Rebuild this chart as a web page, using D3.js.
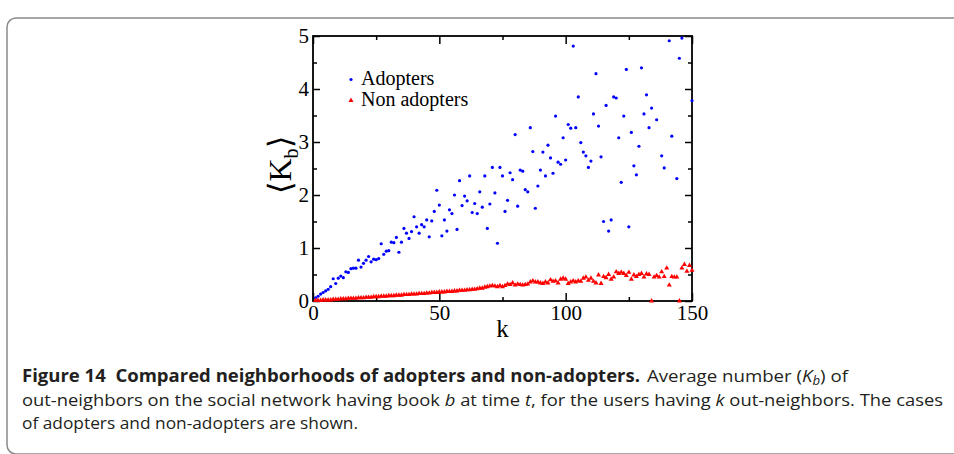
<!DOCTYPE html>
<html>
<head>
<meta charset="utf-8">
<script src="https://cdn.jsdelivr.net/npm/d3@7"></script>
<style>
body { margin: 0; background: #fff; overflow: hidden; }
svg { display: block; }
</style>
</head>
<body>
<svg id="chart" width="954" height="454"></svg>
<script>
// values: k = number of out-neighbors, Kb = average <K_b>
var adopterK = [
	1, 2, 3, 4, 5, 6, 7, 8, 9, 10, 11, 12, 13, 14, 15, 16, 17, 18, 19, 20,
	21, 22, 23, 24, 25, 26, 27, 28, 29, 30, 31, 32, 33, 34, 35, 36, 37, 38, 39, 40,
	41, 42, 43, 44, 45, 46, 47, 48, 49, 50, 51, 52, 53, 54, 55, 56, 57, 58, 59, 60,
	61, 62, 63, 64, 65, 66, 67, 68, 69, 70, 71, 72, 73, 74, 75, 76, 77, 78, 79, 80,
	81, 82, 83, 84, 85, 86, 87, 88, 89, 90, 91, 92, 93, 94, 95, 96, 97, 98, 99, 100,
	101, 102, 103, 104, 105, 106, 107, 108, 109, 110, 111, 112, 113, 114, 115, 116, 117, 118, 119, 120,
	121, 122, 123, 124, 125, 126, 127, 128, 129, 130, 131, 132, 133, 134,
	136, 138, 139, 141, 142, 144, 145, 146, 150
];
var adopterKb = [
	0.06, 0.09, 0.13, 0.16, 0.19, 0.22, 0.27, 0.42, 0.33, 0.43,
	0.47, 0.44, 0.55, 0.54, 0.61, 0.62, 0.62, 0.77, 0.64, 0.71,
	0.77, 0.84, 0.74, 0.79, 0.78, 0.80, 1.08, 0.88, 0.94, 0.95,
	1.11, 1.10, 1.20, 0.92, 1.11, 1.37, 1.28, 1.18, 1.31, 1.59,
	1.40, 1.28, 1.44, 1.40, 1.53, 1.21, 1.51, 1.69, 2.09, 1.81,
	1.23, 1.53, 1.32, 1.72, 1.65, 2.00, 1.35, 2.27, 1.80, 1.98,
	1.89, 2.36, 1.67, 1.84, 1.65, 2.06, 1.77, 2.36, 1.37, 1.83,
	2.52, 2.04, 1.09, 2.52, 2.36, 1.69, 1.90, 2.42, 2.29, 3.14,
	1.79, 2.47, 2.45, 2.10, 2.06, 3.27, 2.82, 1.75, 2.17, 2.47,
	2.81, 2.36, 2.94, 2.70, 2.41, 3.49, 2.62, 2.58, 3.08, 2.66,
	3.33, 3.26, 4.81, 3.27, 3.85, 2.99, 2.81, 2.74, 2.52, 2.64,
	3.53, 4.29, 3.30, 2.72, 1.50, 3.69, 1.32, 1.53, 3.85, 3.83,
	3.08, 2.24, 3.49, 4.37, 1.40, 3.18, 2.55, 2.38, 2.92, 4.40,
	3.53, 3.89, 3.27, 3.64,
	3.42, 2.74, 2.51, 4.91, 3.11, 2.31, 4.58, 4.96, 3.78
];
var nonAdopterK = [
	1, 2, 3, 4, 5, 6, 7, 8, 9, 10, 11, 12, 13, 14, 15, 16, 17, 18, 19, 20,
	21, 22, 23, 24, 25, 26, 27, 28, 29, 30, 31, 32, 33, 34, 35, 36, 37, 38, 39, 40,
	41, 42, 43, 44, 45, 46, 47, 48, 49, 50, 51, 52, 53, 54, 55, 56, 57, 58, 59, 60,
	61, 62, 63, 64, 65, 66, 67, 68, 69, 70, 71, 72, 73, 74, 75, 76, 77, 78, 79, 80,
	81, 82, 83, 84, 85, 86, 87, 88, 89, 90, 91, 92, 93, 94, 95, 96, 97, 98, 99, 100,
	101, 102, 103, 104, 105, 106, 107, 108, 109, 110, 111, 112, 113, 114, 115, 116, 117, 118, 119, 120,
	121, 122, 123, 124, 125, 126, 127, 128, 129, 130, 131, 132, 133, 134, 135, 136, 137, 138, 139, 140,
	141, 142, 143, 144, 145, 146, 147, 148, 149, 150
];
var nonAdopterKb = [
	0.01, 0.01, 0.01, 0.02, 0.02, 0.02, 0.02, 0.03, 0.03, 0.03,
	0.04, 0.04, 0.04, 0.05, 0.05, 0.05, 0.05, 0.06, 0.06, 0.06,
	0.07, 0.07, 0.07, 0.08, 0.08, 0.08, 0.09, 0.09, 0.09, 0.10,
	0.10, 0.10, 0.11, 0.11, 0.11, 0.12, 0.12, 0.12, 0.13, 0.13,
	0.13, 0.14, 0.14, 0.14, 0.15, 0.15, 0.16, 0.16, 0.16, 0.17,
	0.17, 0.17, 0.18, 0.18, 0.18, 0.19, 0.19, 0.20, 0.20, 0.20,
	0.21, 0.21, 0.22, 0.22, 0.23, 0.24, 0.24, 0.26, 0.27, 0.28,
	0.29, 0.28, 0.27, 0.29, 0.27, 0.29, 0.32, 0.31, 0.34, 0.30,
	0.32, 0.31, 0.30, 0.31, 0.32, 0.36, 0.38, 0.36, 0.36, 0.34,
	0.33, 0.36, 0.34, 0.40, 0.37, 0.38, 0.34, 0.41, 0.43, 0.41,
	0.33, 0.36, 0.38, 0.36, 0.38, 0.37, 0.43, 0.45, 0.39, 0.43,
	0.37, 0.34, 0.49, 0.33, 0.46, 0.44, 0.50, 0.41, 0.45, 0.55,
	0.52, 0.54, 0.52, 0.48, 0.54, 0.41, 0.49, 0.46, 0.50, 0.52,
	0.45, 0.51, 0.50, 0.00, 0.45, 0.48, 0.45, 0.55, 0.46, 0.62,
	0.30, 0.46, 0.45, 0.45, 0.00, 0.62, 0.69, 0.56, 0.67, 0.58
];
var xTicks = [0, 50, 100, 150];
var xMinorTicks = [25, 75, 125];
var yTicks = [0, 1, 2, 3, 4, 5];
var yMinorTicks = [0.5, 1.5, 2.5, 3.5, 4.5];
var legendLabels = ['Adopters', 'Non adopters'];

var serif = '"Liberation Serif", "Times New Roman", serif';
var sans = '"Open Sans", "Noto Sans", sans-serif';

var svg = d3.select('#chart');

// grey rounded frame round the figure (right side runs off the page)
svg.append('rect')
	.attr('x', 7).attr('y', 18)
	.attr('width', 1300).attr('height', 436)
	.attr('rx', 9)
	.style('fill', 'none')
	.style('stroke', '#8a8a8a')
	.style('stroke-width', 1.5);

var x = d3.scaleLinear().domain([0, 150]).range([313, 692]);
var y = d3.scaleLinear().domain([0, 5]).range([301, 36]);

function styleAxis(g) {
	g.select('.domain').remove();
	g.selectAll('line').style('stroke', '#000').style('stroke-width', 1.5);
	g.selectAll('text')
		.style('font-family', serif)
		.style('font-size', '21px')
		.style('fill', '#000');
}

// major and minor ticks on all four sides, pointing inwards
svg.append('g').attr('transform', 'translate(0,301)')
	.call(d3.axisBottom(x).tickValues(xTicks).tickSize(-8).tickPadding(4).tickFormat(d3.format('d')))
	.call(styleAxis);
svg.append('g').attr('transform', 'translate(0,301)')
	.call(d3.axisBottom(x).tickValues(xMinorTicks).tickSize(-4).tickFormat(''))
	.call(styleAxis);
svg.append('g').attr('transform', 'translate(0,36)')
	.call(d3.axisTop(x).tickValues(xTicks).tickSize(-8).tickFormat(''))
	.call(styleAxis);
svg.append('g').attr('transform', 'translate(0,36)')
	.call(d3.axisTop(x).tickValues(xMinorTicks).tickSize(-4).tickFormat(''))
	.call(styleAxis);
svg.append('g').attr('transform', 'translate(313,0)')
	.call(d3.axisLeft(y).tickValues(yTicks).tickSize(-7).tickPadding(4).tickFormat(d3.format('d')))
	.call(styleAxis);
svg.append('g').attr('transform', 'translate(313,0)')
	.call(d3.axisLeft(y).tickValues(yMinorTicks).tickSize(-4).tickFormat(''))
	.call(styleAxis);
svg.append('g').attr('transform', 'translate(692,0)')
	.call(d3.axisRight(y).tickValues(yTicks).tickSize(-7).tickFormat(''))
	.call(styleAxis);
svg.append('g').attr('transform', 'translate(692,0)')
	.call(d3.axisRight(y).tickValues(yMinorTicks).tickSize(-4).tickFormat(''))
	.call(styleAxis);

svg.append('rect')
	.attr('x', x(0)).attr('y', y(5))
	.attr('width', x(150) - x(0)).attr('height', y(0) - y(5))
	.style('fill', 'none')
	.style('stroke', '#000')
	.style('stroke-width', 1.8);

// axis titles
svg.append('text')
	.attr('x', (x(0) + x(150)) / 2)
	.attr('y', 337)
	.attr('text-anchor', 'middle')
	.style('font-family', serif)
	.style('font-size', '25px')
	.text('k');

var yTitle = svg.append('text')
	.attr('transform', 'translate(291,165) rotate(-90)')
	.attr('text-anchor', 'middle')
	.style('font-family', serif)
	.style('font-size', '32px');
yTitle.append('tspan').text('\u27E8K');
yTitle.append('tspan').attr('dy', 7).style('font-size', '20px').text('b');
yTitle.append('tspan').attr('dy', -7).text('\u27E9');

// data points
var tri = d3.symbol().type(d3.symbolTriangle).size(11);

svg.append('g').selectAll('circle')
	.data(d3.zip(adopterK, adopterKb))
	.join('circle')
	.attr('cx', function (d) { return x(d[0]); })
	.attr('cy', function (d) { return y(d[1]); })
	.attr('r', 1.6)
	.style('fill', '#0000ff');

svg.append('g').selectAll('path')
	.data(d3.zip(nonAdopterK, nonAdopterKb))
	.join('path')
	.attr('d', tri)
	.attr('transform', function (d) { return 'translate(' + x(d[0]) + ',' + y(d[1]) + ')'; })
	.style('fill', '#ff0000');

// legend
var legend = svg.append('g');
legend.append('circle').attr('cx', 351).attr('cy', 79.5).attr('r', 1.6).style('fill', '#0000ff');
legend.append('path').attr('d', tri).attr('transform', 'translate(351,100.5)').style('fill', '#ff0000');
legend.selectAll('text')
	.data(legendLabels)
	.join('text')
	.attr('x', 361)
	.attr('y', function (d, i) { return 85 + i * 21; })
	.style('font-family', serif)
	.style('font-size', '20px')
	.text(function (d) { return d; });

// caption
var ink = '#231f20';
svg.append('text')
	.attr('x', 22).attr('y', 382)
	.attr('textLength', 618).attr('lengthAdjust', 'spacingAndGlyphs')
	.style('font-family', sans).style('font-size', '17px').style('font-weight', 'bold')
	.style('fill', ink)
	.text('Figure 14\u00A0\u00A0Compared neighborhoods of adopters and non-adopters.');

var c1 = svg.append('text')
	.attr('x', 647).attr('y', 382)
	.attr('textLength', 201).attr('lengthAdjust', 'spacingAndGlyphs')
	.style('font-family', sans).style('font-size', '17px')
	.style('fill', ink);
c1.append('tspan').text('Average number (');
c1.append('tspan').style('font-style', 'italic').text('K');
c1.append('tspan').style('font-style', 'italic').style('font-size', '12px').attr('dy', 3).text('b');
c1.append('tspan').attr('dy', -3).text(') of');

var c2 = svg.append('text')
	.attr('x', 22).attr('y', 406)
	.attr('textLength', 921).attr('lengthAdjust', 'spacingAndGlyphs')
	.style('font-family', sans).style('font-size', '17px')
	.style('fill', ink);
c2.append('tspan').text('out-neighbors on the social network having book ');
c2.append('tspan').style('font-style', 'italic').text('b');
c2.append('tspan').text(' at time ');
c2.append('tspan').style('font-style', 'italic').text('t');
c2.append('tspan').text(', for the users having ');
c2.append('tspan').style('font-style', 'italic').text('k');
c2.append('tspan').text(' out-neighbors. The cases');

svg.append('text')
	.attr('x', 22).attr('y', 429)
	.attr('textLength', 336).attr('lengthAdjust', 'spacingAndGlyphs')
	.style('font-family', sans).style('font-size', '17px')
	.style('fill', ink)
	.text('of adopters and non-adopters are shown.');
</script>
</body>
</html>
